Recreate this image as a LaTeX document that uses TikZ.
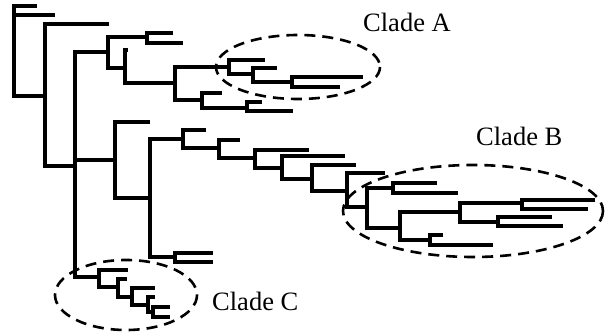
\documentclass[tikz,border=0pt]{standalone}
\usepackage{fontspec}
\setmainfont{Liberation Serif}
\newcommand\brk[5]{\draw[brline] (#4,#2) -- (#1,#2) -- (#1,#3) -- (#5,#3);}
\begin{document}
\begin{tikzpicture}[x=1pt,y=-1pt,
  brline/.style={line width=3.4pt, line join=miter},
  cladering/.style={line width=2.6pt, dash pattern=on 11pt off 7pt},
  lab/.style={font=\fontsize{26.5}{30}\selectfont, anchor=base west, inner sep=0pt}]
\useasboundingbox (0,0) rectangle (606,334);
% root
\draw[brline] (37,6) -- (14,6) -- (14,96) -- (45,96);
\draw[brline] (14,15) -- (55,15);
\brk{45}{24}{166}{109}{75}
\brk{75}{52}{277}{108}{99}
\draw[brline] (75,160) -- (115,160);
% clade A region
\brk{108}{37}{68}{147}{125}
\brk{147}{33}{43}{173}{183}
\brk{125}{50}{83}{128}{175}
\brk{175}{67}{100}{229}{202}
\brk{229}{60}{74}{265}{253}
\brk{253}{68}{82}{277}{292}
\brk{292}{77}{87}{363}{340}
\brk{202}{93}{108}{222}{247}
\brk{247}{102}{111}{262}{293}
% middle chain
\brk{115}{122}{198}{150}{150}
\brk{150}{139}{257}{183}{175}
\brk{175}{253}{262}{213}{213}
\brk{183}{130}{148}{206}{219}
\brk{219}{140}{158}{240}{255}
\brk{255}{150}{168}{309}{282}
\brk{282}{156}{179}{345}{312}
\brk{312}{165}{191}{356}{347}
\brk{347}{173}{207}{385}{367}
\brk{367}{188}{228}{393}{400}
\brk{393}{183}{193}{437}{458}
\brk{400}{212}{240}{460}{430}
\brk{460}{203}{222}{522}{498}
\brk{522}{200}{209}{595}{588}
\brk{498}{217}{226}{552}{563}
\brk{430}{235}{245}{443}{493}
% clade C
\brk{99}{270}{287}{128}{118}
\brk{118}{279}{297}{127}{132}
\brk{132}{288}{305}{155}{148}
\brk{148}{297}{312}{155}{153}
\brk{153}{307}{317}{170}{170}
% ellipses
\draw[cladering] (298,67) ellipse [x radius=82, y radius=32];
\draw[cladering] (473,211) ellipse [x radius=130, y radius=46];
\draw[cladering] (126,295) ellipse [x radius=71, y radius=35];
% labels
\node[lab] (la) at (363,32) {Clade A};
\node[lab] (lb) at (476,146) {Clade B};
\node[lab] (lc) at (212,310) {Clade C};
\end{tikzpicture}
\end{document}
